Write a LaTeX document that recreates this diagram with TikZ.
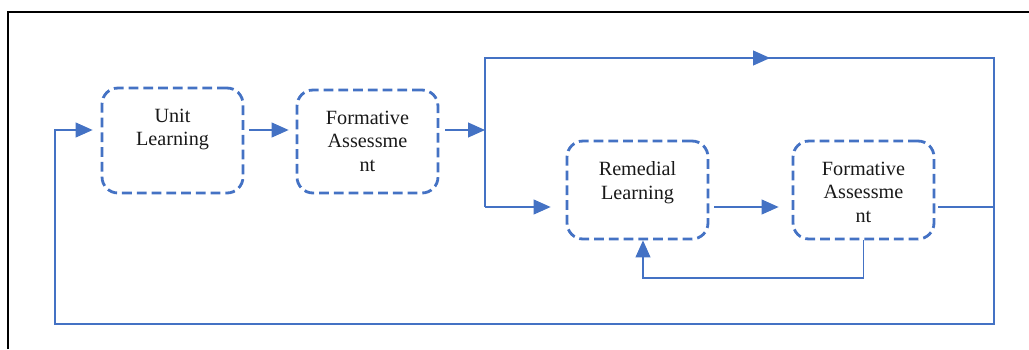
\documentclass[tikz,border=0pt]{standalone}
\usepackage{fontspec}
\setmainfont{Liberation Serif}
\usepackage{xcolor}
\usepackage{tikz}
\usetikzlibrary{arrows.meta, positioning, calc}

\definecolor{lineblue}{HTML}{4472C4}

\tikzset{
  stage/.style={draw=lineblue, line width=1.6pt, dash pattern=on 5.6pt off 2.8pt,
    rounded corners=0.32cm, minimum width=2.82cm, inner sep=0pt},
  stagetext/.style={inner sep=0pt, align=center, font=\fontsize{11.5}{13.4}\selectfont, text=black!90},
  flow/.style={draw=lineblue, line width=0.6pt, -{Triangle[length=0.34cm, width=0.3cm]}},
  wire/.style={draw=lineblue, line width=0.6pt}
}

\begin{document}
\begin{tikzpicture}[x=0.02cm, y=-0.02cm]
          \useasboundingbox (0,0) rectangle (1029,349);
          \draw[black, line width=0.7pt] (8,349) -- (8,12) -- (1029,12);

          \node[stage, minimum height=2.1cm] (ul) at (172.5,140.5) {};
          \node[stage, minimum height=2.06cm] (fa1) at (367.5,141.5) {};
          \node[stage, minimum height=1.96cm] (rl) at (637.5,190) {};
          \node[stage, minimum height=1.96cm] (fa2) at (863.5,190) {};

          \node[stagetext, below=0.44cm of ul.north] (ultext) {Unit\\Learning};
          \node[stagetext, below=0.44cm of fa1.north] (fa1text) {Formative\\Assessme\\nt};
          \node[stagetext, below=0.44cm of rl.north] (rltext) {Remedial\\Learning};
          \node[stagetext, below=0.44cm of fa2.north] (fa2text) {Formative\\Assessme\\nt};

          \coordinate (inL) at (55,130);
          \coordinate (split) at (485,130);
          \coordinate (topL) at (485,58);
          \coordinate (topR) at (994,58);
          \coordinate (botR) at (994,324);
          \coordinate (botL) at (55,324);
          \coordinate (down) at (485,207);
          \coordinate (fb) at (643,278);

          \draw[flow] ([xshift=0.1cm]ul.east |- inL) -- ([xshift=-0.14cm]fa1.west |- inL);
          \draw[flow] ([xshift=0.12cm]fa1.east |- split) -- (split);
          \draw[flow] (down) -- (topL) -- (topR) -- (botR) -- (botL) -- (inL) -- ([xshift=-0.16cm]ul.west |- inL);
          \draw[flow] ($(topL)!0.47!(topR)$) -- ($(topL)!0.56!(topR)$);
          \draw[flow] (down) -- ([xshift=-0.3cm]rl.west |- down);
          \draw[flow] ([xshift=0.1cm]rl.east |- down) -- ([xshift=-0.26cm]fa2.west |- down);
          \draw[wire] ([xshift=0.06cm]fa2.east |- down) -- (botR |- down);
          \draw[flow] (fa2.south) |- (fb) -- (fb |- rl.south);
        \end{tikzpicture}
\end{document}
